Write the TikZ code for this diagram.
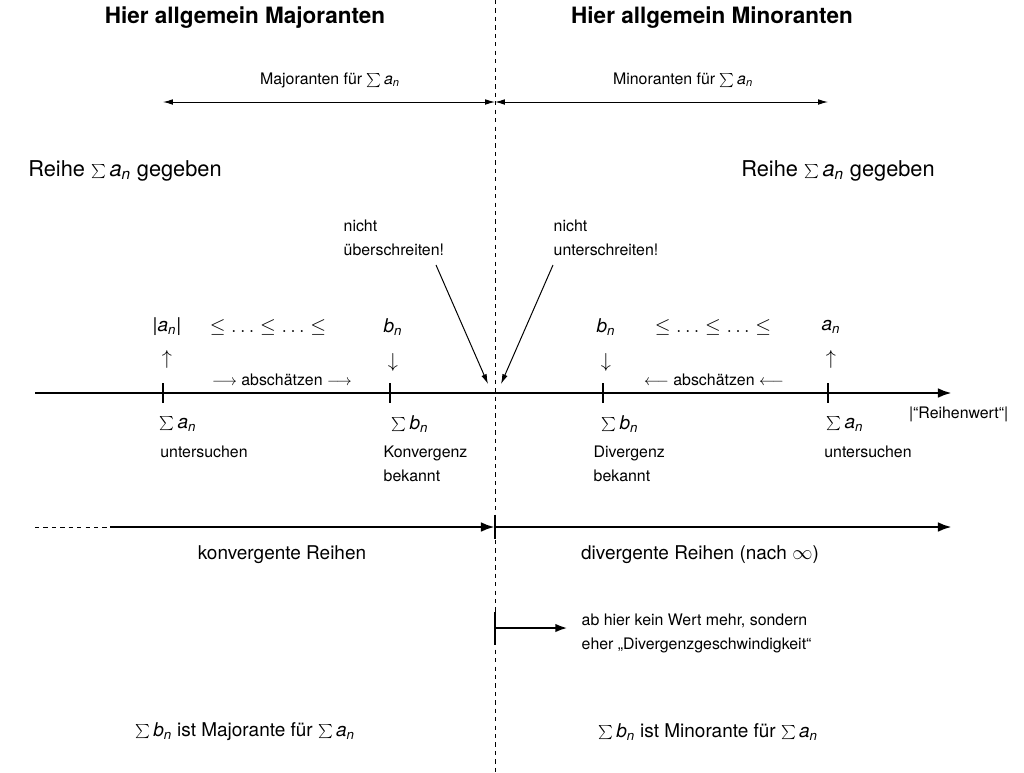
\documentclass[tikz,border=0pt]{standalone}
\usepackage{fontspec}
\setmainfont{TeX Gyre Heros}
\usetikzlibrary{arrows.meta}
\newcommand{\myva}{\textit{a}\textsubscript{\textit{n}}}
\newcommand{\myvb}{\textit{b}\textsubscript{\textit{n}}}
\newcommand{\mysa}{$\sum$\,\myva}
\newcommand{\mysb}{$\sum$\,\myvb}
\begin{document}
\begin{tikzpicture}[x=0.025cm,y=-0.025cm,
  txt/.style={inner sep=1pt,font=\fontsize{13.5}{16}\selectfont},
  sm/.style={inner sep=1pt,font=\fontsize{11.3}{17}\selectfont,align=left},
  big/.style={inner sep=1pt,font=\fontsize{15.5}{18}\selectfont},
  ttl/.style={inner sep=1pt,font=\fontsize{16}{19}\selectfont\bfseries},
  axis/.style={line width=2pt,-{Latex[length=10pt,width=7pt]}},
  tk/.style={line width=2pt},
  arr/.style={-{Latex[length=7pt,width=4pt]},line width=0.7pt}]
\useasboundingbox (0,0) rectangle (1024,772);
\draw[dashed] (495,0) -- (495,772);
\node[ttl] (t1) at (245,18) {Hier allgemein Majoranten};
\node[ttl] (t2) at (712,18) {Hier allgemein Minoranten};
\coordinate (L) at (163,102); \coordinate (M) at (495,102); \coordinate (R) at (828,102);
\draw[arr,{Latex[length=7pt,width=4pt]}-{Latex[length=7pt,width=4pt]}] (L) -- (M);
\draw[arr,{Latex[length=7pt,width=4pt]}-{Latex[length=7pt,width=4pt]}] (M) -- (R);
\node[sm] (m1) at (330,80) {Majoranten für \mysa};
\node[sm] (m2) at (683,80) {Minoranten für \mysa};
\node[big] (r1) at (125,171) {Reihe \mysa\ gegeben};
\node[big] (r2) at (838,171) {Reihe \mysa\ gegeben};
\node[sm,anchor=west] (n1) at (342,238) {nicht\\überschreiten!};
\node[sm,anchor=west] (n2) at (552,238) {nicht\\unterschreiten!};
\coordinate (p1) at (488,384); \coordinate (p2) at (501,384);
\draw[arr] (436,265) -- (p1);
\draw[arr] (553,265) -- (p2);
% main axis
\coordinate (a0) at (35,393); \coordinate (a1) at (952,393);
\draw[axis] (a0) -- (a1);
\foreach \x in {163,390,603,828} \draw[tk] (\x,383) -- (\x,403);
\node[txt] at (167,327) {|\myva|};
\node[txt] at (268,327) {$\le\ldots\le\ldots\le$};
\node[txt] at (167,359) {$\uparrow$};
\node[txt] at (393,327) {\myvb};
\node[txt] at (393,362) {$\downarrow$};
\node[txt] at (606,327) {\myvb};
\node[txt] at (606,362) {$\downarrow$};
\node[txt] at (713,327) {$\le\ldots\le\ldots\le$};
\node[txt] at (831,327) {\myva};
\node[txt] at (831,359) {$\uparrow$};
\node[sm] at (282,380) {$\longrightarrow$ abschätzen $\longrightarrow$};
\node[sm] at (714,380) {$\longleftarrow$ abschätzen $\longleftarrow$};
\node[txt] at (178,424) {\mysa};
\node[sm] at (204,452) {untersuchen};
\node[txt] at (410,424) {\mysb};
\node[sm,anchor=west] at (382,464) {Konvergenz\\bekannt};
\node[txt] at (620,424) {\mysb};
\node[sm,anchor=west] at (592,464) {Divergenz\\bekannt};
\node[txt] at (845,424) {\mysa};
\node[sm] at (868,452) {untersuchen};
\node[sm,anchor=east] at (1010,414) {|“Reihenwert“|};
% second axis
\coordinate (b0) at (35,527); \coordinate (b1) at (110,527);
\coordinate (bm) at (495,527); \coordinate (b2) at (952,527);
\draw[dashed] (b0) -- (b1);
\draw[axis] (b1) -- (bm);
\draw[axis] (bm) -- (b2);
\draw[tk] (495,515) -- (495,539);
\node[txt] at (282,555) {konvergente Reihen};
\node[txt] at (700,555) {divergente Reihen (nach $\infty$)};
\coordinate (c0) at (495,628); \coordinate (c1) at (568,628);
\draw[tk] (495,612) -- (495,645);
\draw[line width=2pt,-{Latex[length=9pt,width=6pt]}] (c0) -- (c1);
\node[sm,anchor=west] at (580,633) {ab hier kein Wert mehr, sondern\\eher „Divergenzgeschwindigkeit“};
\node[txt] at (245,732) {\mysb\ ist Majorante für \mysa};
\node[txt] at (708,732) {\mysb\ ist Minorante für \mysa};
\end{tikzpicture}
\end{document}
